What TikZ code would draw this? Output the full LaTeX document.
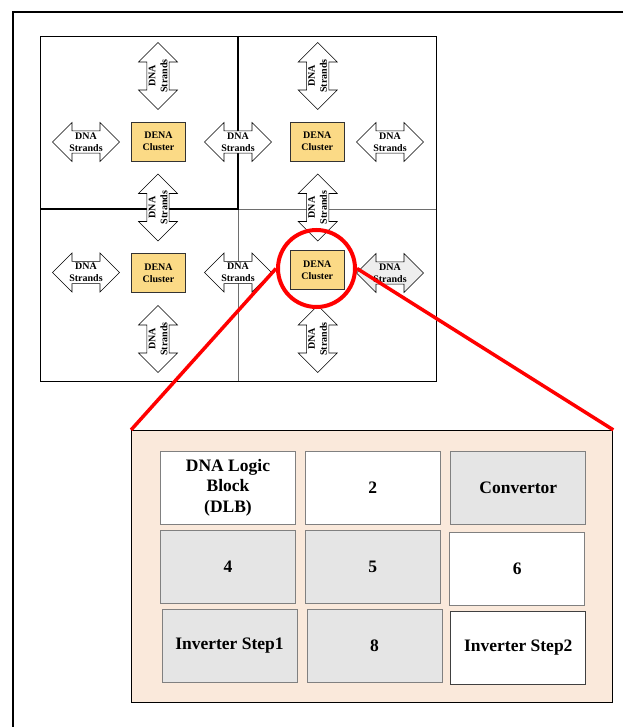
\documentclass[tikz,border=0pt]{standalone}
\usepackage{fontspec}
\setmainfont{Liberation Serif}
\usetikzlibrary{shapes.arrows}
\definecolor{clusterfill}{RGB}{251,218,134}
\definecolor{peach}{RGB}{250,233,219}
\definecolor{boxgray}{RGB}{229,229,229}
\definecolor{arrowgray}{RGB}{238,238,238}
\definecolor{gridgray}{RGB}{110,110,110}
\begin{document}
\begin{tikzpicture}[x=1pt,y=-1pt,
  strand/.style={double arrow, draw=black, fill=white, line width=0.6pt,
    minimum height=67pt, minimum width=39pt, double arrow head extend=8pt,
    inner xsep=-4pt, inner ysep=1pt, align=center,
    font=\fontsize{10}{12}\selectfont\bfseries},
  cluster/.style={draw=black!80, fill=clusterfill, line width=0.7pt,
    minimum width=54pt, minimum height=39pt, inner sep=0pt, align=center,
    font=\fontsize{10}{12}\selectfont\bfseries},
  cell/.style={draw=black!50, line width=0.9pt, minimum width=135pt,
    minimum height=73pt, inner sep=0pt, align=center,
    font=\fontsize{17.5}{20.5}\selectfont\bfseries},
]
\path[use as bounding box, fill=white] (0,0) rectangle (623,727);
% outer frame (continues beyond the right and bottom edges)
\draw[line width=1.6pt] (623,12) -- (13,12) -- (13,727);
% grid
\draw[line width=0.8pt] (40,36) rectangle (436,381);
\draw[gridgray, line width=0.8pt] (238,209) -- (238,381) (238,209) -- (436,209);
\draw[line width=1.3pt] (238,36) -- (238,209) -- (40,209);
% clusters
\node[cluster] (c1) at (158.5,141.5) {DENA\\Cluster};
\node[cluster] (c2) at (317.3,141.5) {DENA\\Cluster};
\node[cluster] (c3) at (158.5,273) {DENA\\Cluster};
\node[cluster] (c4) at (317.3,270) {DENA\\Cluster};
% horizontal strands
\node[strand] (h11) at (86,142) {DNA\\Strands};
\node[strand] (h12) at (238,142) {DNA\\Strands};
\node[strand] (h13) at (390,142) {DNA\\Strands};
\node[strand] (h21) at (86,272.5) {DNA\\Strands};
\node[strand] (h22) at (238,272.5) {DNA\\Strands};
\node[strand, fill=arrowgray] (h23) at (390,273) {DNA\\Strands};
% vertical strands
\node[strand, rotate=90] (v11) at (158,76) {DNA\\Strands};
\node[strand, rotate=90] (v12) at (158,207.5) {DNA\\Strands};
\node[strand, rotate=90] (v13) at (158,339) {DNA\\Strands};
\node[strand, rotate=90] (v21) at (317.7,76) {DNA\\Strands};
\node[strand, rotate=90] (v22) at (317.7,207.5) {DNA\\Strands};
\node[strand, rotate=90] (v23) at (317.7,339) {DNA\\Strands};
% panel
\node[draw=black, fill=peach, line width=1.2pt, minimum width=481pt,
  minimum height=272pt, inner sep=0pt] (panel) at (372.2,566.5) {};
\node[cell, fill=white] (dlb) at (228,487.5) {DNA Logic\\Block\\(DLB)};
\node[cell, fill=white] (n2) at (372.8,487.5) {2};
\node[cell, fill=boxgray] (conv) at (518.3,488.2) {Convertor};
\node[cell, fill=boxgray] (n4) at (228,567) {4};
\node[cell, fill=boxgray] (n5) at (372.8,567) {5};
\node[cell, fill=white] (n6) at (517.2,568.7) {6};
\node[cell, fill=boxgray] (inv1) at (229.5,645.8) {Inverter Step1};
\node[cell, fill=boxgray] (n8) at (374.5,645.8) {8};
\node[cell, fill=white, draw=black!75] (inv2) at (518.3,647.8) {Inverter Step2};
% zoom highlight
\node[circle, draw=red, line width=4pt, minimum size=77pt, inner sep=0pt] (zoom) at (316.5,268.5) {};
\draw[red, line width=3.5pt] (zoom.west) -- (panel.north west);
\draw[red, line width=3.5pt] (zoom.east) -- (panel.north east);
\end{tikzpicture}
\end{document}
